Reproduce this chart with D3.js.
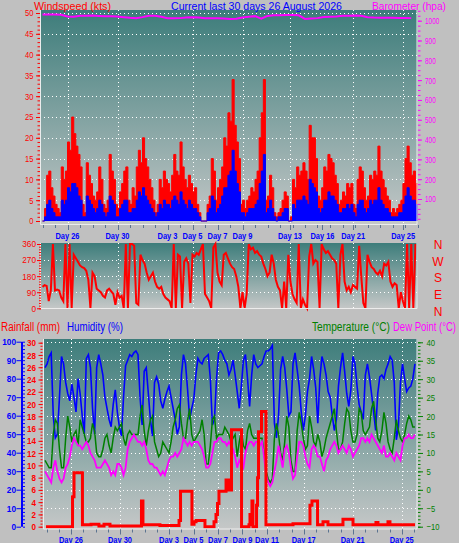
<!DOCTYPE html>
<html>
<head>
<meta charset="utf-8">
<script src="https://cdn.jsdelivr.net/npm/d3@7"></script>
<style>
  body { margin: 0; background: #c0c0c0; overflow: hidden; }
  svg { display: block; }
</style>
</head>
<body>
<script>
// ---- data (6 samples per day unless noted) ----
var gust = [0,3,11,12,8,6,4,3,2,13, 10,12,19,17,25,21,18,16,13,4, 2,14,11,9,6,5,7,13,10,4,
  3,5,16,12,10,4,3,7,9,12, 13,5,4,8,6,13,17,14,20,15, 13,10,8,5,2,4,10,8,12,10,
  9,7,11,16,12,11,19,13,10,8, 11,9,7,8,4,2,0,0,0,4, 6,15,12,5,8,10,13,20,18,26,
  24,34,23,19,15,4,5,3,5,6, 8,7,10,12,20,26,34,5,6,11, 8,2,1,2,3,5,7,6,0,1,
  10,8,13,11,12,14,12,10,23,20, 20,15,6,5,8,13,12,16,15,14, 11,9,4,5,7,6,9,8,9,4,
  3,10,13,12,8,5,6,11,10,12, 11,18,12,10,8,6,5,2,3,2, 3,4,5,9,15,18,14,11,12,9];
var avgWind = [0,1,4,5,3,2,1,1,1,5, 4,5,8,7,9,9,8,6,5,1, 1,6,5,4,3,2,3,5,4,2,
  1,2,6,5,4,1,1,3,4,5, 5,2,2,3,3,5,7,6,8,6, 5,4,3,2,1,2,4,3,5,4,
  4,3,5,6,5,4,7,5,4,3, 5,4,3,3,2,1,0,0,0,2, 3,6,5,2,3,4,6,8,8,11,
  12,17,12,9,7,2,2,1,2,3, 3,3,4,5,9,12,16,2,3,5, 3,1,0,1,1,2,3,3,0,0,
  4,3,5,5,5,6,5,4,10,9, 8,7,3,2,3,5,5,7,6,6, 5,4,2,2,3,3,4,3,4,2,
  1,4,5,5,3,2,3,5,4,5, 5,8,5,4,3,3,2,1,1,1, 1,2,2,4,6,8,6,5,5,4];
// barometer, 2 samples per day
var baro = [1031,1031,1031,1030,1021,1020,1025,1025,1026,1024, 1022,1022,1021,1018,1015,1013,1018,1025,1025,1020,
  1012,1012,1013,1016,1017,1016,1012,1012,1012,1011, 1008,1010,1016,1020,1023,1010,1024,1027,1028,1029,
  1029,1027,1009,1011,1013,1019,1020,1021,1025,1025, 1026,1025,1018,1016,1015,1015,1015,1014,1014,1013];
var windDir = [120,130,125,40,100,360,100,105,100,60, 40,360,0,360,0,300,280,260,240,230,
  225,210,160,0,200,180,110,100,90,70, 60,100,110,95,80,20,90,60,70,0,
  360,0,360,360,350,30,20,300,270,250, 200,160,180,200,150,120,110,120,80,60,
  50,40,0,360,0,300,290,0,260,280, 250,30,300,290,310,300,330,360,80,60,
  40,0,340,360,200,150,130,300,310,280, 250,230,220,180,120,0,90,0,80,360,
  330,340,310,320,300,290,250,220,180,200, 300,250,160,120,100,0,150,0,300,150,
  80,50,30,360,0,50,20,0,290,360, 250,270,260,0,360,330,310,320,300,280,
  270,250,0,300,360,150,100,120,90,130, 120,110,350,180,30,0,300,260,230,220,
  200,190,210,180,250,240,260,150,120,140, 130,0,90,40,0,360,0,360,0,360];
var humidity = [86,88,92,94,60,48,50,70,92,88, 78,72,68,77,70,62,80,72,60,50,
  91,93,86,64,50,86,93,88,82,70, 64,58,54,66,74,62,54,49,70,87,
  90,93,92,94,95,93,70,55,84,86, 72,58,49,78,81,77,68,64,69,73,
  76,70,64,58,50,54,82,93,88,74, 58,64,69,82,91,89,88,91,92,93,
  80,55,58,80,94,95,93,90,88,82, 85,90,82,73,64,76,90,93,80,65,
  82,93,88,86,87,88,92,95,95,96, 98,56,48,60,85,92,86,74,60,62,
  88,94,85,76,62,52,60,73,80,92, 85,75,56,80,92,88,82,73,70,60,
  52,58,76,86,94,84,72,65,74,92, 88,76,66,62,58,82,88,81,72,62,
  52,72,81,82,80,85,88,92,90,78, 47,54,78,88,80,73,75,76,80,88];
var temperature = [8,7,6,6,15,19,18,11,6,6, 14,20,17,13,15,16,12,19,17,15,
  13,13,14,18,16,10,9,9,11,14, 15,12,10,14,17,16,17,18,14,12,
  15,16,15,15,15,15,20,23,16,12, 16,19,20,13,11,9,10,13,12,11,
  10,13,17,19,22,23,18,14,14,19, 22,15,13,14,15,16,19,15,7,7,
  12,19,20,14,15,15,15,17,16,15, 13,14,15,9,13,16,12,11,16,18,
  15,14,14,14,14,14,10,5,3,2, 3,14,18,15,10,8,13,20,17,8,
  5,5,16,21,18,14,11,12,20,17, 13,12,15,13,9,11,14,16,18,20,
  22,16,11,11,13,18,22,21,16,13, 13,15,22,21,16,15,16,17,22,24,
  19,14,13,16,21,18,13,11,10,14, 19,16,14,13,15,18,20,19,17,17];
var dewPoint = [5,4,3,2,6,8,5,3,2,3, 6,7,9,12,14,13,12,12,11,12,
  13,12,10,9,8,6,6,6,7,8, 7,6,4,5,4,7,7,6,4,6,
  11,13,14,15,14,13,13,12,13,11, 8,7,7,6,6,5,4,5,4,6,
  8,9,9,10,9,10,11,14,13,12, 13,12,13,13,13,12,11,9,6,6,
  7,10,13,13,14,14,13,13,12,13, 12,11,9,6,8,7,6,10,12,13,
  13,12,13,13,12,13,9,4,2,1, 2,5,8,12,9,6,11,12,10,6,
  3,4,9,13,13,12,9,7,6,11, 12,11,9,9,7,5,8,9,11,12,
  13,12,10,11,12,11,10,12,11,9, 10,11,12,14,14,13,14,13,15,14,
  13,12,11,10,12,9,9,10,9,8, 10,9,8,12,14,14,15,14,14,15];
// rainfall steps: day offset and mm
var rainDay = [0.08,2.22,2.34,3.02,3.71,4.35,4.76,5.24,7.78,7.90,9.27,10.81,10.93,11.85,12.02,12.18,12.90,
  13.63,13.79,13.91,14.03,14.60,14.84,15.04,15.85,16.45,16.53,16.61,16.69,16.77,17.06,17.14,17.22,17.46,17.82,
  20.00,21.37,21.53,21.98,22.42,22.82,24.03,24.84,26.69,26.85,27.66,27.82,29.84];
var rainMm = [0,4.9,8.8,0.3,0.4,0.1,0.4,0.1,4.2,0.3,0.2,1.0,5.8,0.4,0.8,1.0,0,
  0.8,2.0,3.8,5.8,7.6,6.0,15.8,0,0.3,2.0,0.3,4.2,0,3.5,8.0,15.5,18.8,0.3,
  0.5,3.5,4.2,0.3,0.8,0.3,1.2,0.3,0.7,0.3,0.8,0.3,0.3];

// x-axis labels: text and day offset
var topLabels = ["Day 26","Day 30","Day 3","Day 5","Day 7","Day 9","Day 13","Day 16","Day 21","Day 25"];
var topLabelDay = [2,6,10,12,14,16,19.8,22.4,24.85,28.85];
var topGridDay = [2,6,12,16,19.8,24.85,28.85];
var bottomLabels = ["Day 26","Day 30","Day 3","Day 5","Day 7","Day 9","Day 11","Day 17","Day 21","Day 25"];
var bottomLabelDay = [2,6,10,12,14,16,18,21,25,29];
var compass = ["N","W","S","E","N"];
var compassDeg = [360,270,180,90,0];

// ---- page ----
var svg = d3.select("body").append("svg")
  .attr("width", 459)
  .attr("height", 543)
  .style("font-family", "'Liberation Sans', Arial, sans-serif");

var grad = svg.append("defs").append("linearGradient")
  .attr("id", "plotbg").attr("x1", 0).attr("y1", 0).attr("x2", 0).attr("y2", 1);
grad.append("stop").attr("offset", "0%").attr("stop-color", "#3d7d7b");
grad.append("stop").attr("offset", "100%").attr("stop-color", "#c6c8c8");

var sans = "'Liberation Sans',Arial,sans-serif";

// scales
var xTop = d3.scaleLinear().domain([0, 30]).range([42.5, 417.5]);
var xBot = d3.scaleLinear().domain([0, 30]).range([45, 417]);
var xBotAxis = d3.scaleLinear().domain([0, 30]).range([46.5, 414]);
var yWind = d3.scaleLinear().domain([0, 50]).range([221, 13]);
var yBaro = d3.scaleLinear().domain([100, 1000]).range([199, 20.7]);
var yDir = d3.scaleLinear().domain([0, 360]).range([308.3, 244]);
var yHum = d3.scaleLinear().domain([0, 100]).range([526.7, 341.7]);
var yRain = d3.scaleLinear().domain([0, 30]).range([526.7, 342.7]);
var yTemp = d3.scaleLinear().domain([-10, 40]).range([526.7, 342.3]);

function panel(x0, x1, y0, y1) {
  svg.append("rect").attr("x", x0).attr("y", y0)
    .attr("width", x1 - x0).attr("height", y1 - y0)
    .attr("fill", "url(#plotbg)");
}
function frame(x0, x1, y0, y1) {
  svg.append("path")
    .attr("d", "M" + (x0 + 0.5) + "," + y0 + "V" + (y1 - 0.5) + "H" + (x1 - 0.5) + "V" + y0)
    .attr("fill", "none").attr("stroke", "#ececec");
}
function hgrid(scale, values, x0, x1) {
  svg.append("g").selectAll("line").data(values).join("line")
    .attr("x1", x0).attr("x2", x1)
    .attr("y1", function(d) { return Math.round(scale(d)) + 0.5; })
    .attr("y2", function(d) { return Math.round(scale(d)) + 0.5; })
    .attr("stroke", "#fff").attr("stroke-dasharray", "1,3");
}
function vgrid(scale, values, y0, y1) {
  svg.append("g").selectAll("line").data(values).join("line")
    .attr("x1", function(d) { return Math.round(scale(d)) + 0.5; })
    .attr("x2", function(d) { return Math.round(scale(d)) + 0.5; })
    .attr("y1", y0).attr("y2", y1)
    .attr("stroke", "#fff").attr("stroke-dasharray", "1,3");
}
function axis(fn, scale, pos, major, minor, size, minorSize, pad, color, font, charW) {
  var gm = svg.append("g").attr("transform", "translate(" + pos + ",0)")
    .call(fn(scale).tickValues(minor).tickSize(minorSize).tickFormat(""));
  var g = svg.append("g").attr("transform", "translate(" + pos + ",0)")
    .call(fn(scale).tickValues(major).tickSize(size).tickPadding(pad).tickFormat(d3.format("d")));
  gm.select(".domain").remove();
  g.select(".domain").remove();
  gm.selectAll("line").attr("stroke", color);
  g.selectAll("line").attr("stroke", color);
  g.selectAll("text").attr("fill", color).style("font", font)
    .attr("textLength", function() { return this.textContent.length * charW; })
    .attr("lengthAdjust", "spacingAndGlyphs");
  return g;
}
function series(vals, perDay) {
  var pts = vals.map(function(v, i) { return {t: i / perDay, v: v}; });
  pts.push({t: vals.length / perDay, v: vals[vals.length - 1]});
  return pts;
}
function xTicks(scale, y, labelDays) {
  var g = svg.append("g");
  g.selectAll(".mn").data(d3.range(0, 31)).join("line")
    .attr("x1", function(d) { return Math.round(scale(d)) + 0.5; })
    .attr("x2", function(d) { return Math.round(scale(d)) + 0.5; })
    .attr("y1", y).attr("y2", y + 3).attr("stroke", "#5b7390");
  g.selectAll(".mj").data(labelDays).join("line")
    .attr("x1", function(d) { return Math.round(scale(d)) + 0.5; })
    .attr("x2", function(d) { return Math.round(scale(d)) + 0.5; })
    .attr("y1", y).attr("y2", y + 5).attr("stroke", "#5b7390");
}
function xLabels(scale, names, days, y) {
  svg.append("g").selectAll("text").data(names).join("text")
    .attr("x", function(d, i) { return scale(days[i]); })
    .attr("y", y)
    .attr("text-anchor", "middle")
    .attr("fill", "#0000ff")
    .attr("textLength", function(d) { return d.length * 4; })
    .attr("lengthAdjust", "spacingAndGlyphs")
    .style("font", "bold 9.5px " + sans)
    .text(function(d) { return d; });
}
function header(txt, x, y, len, color, size) {
  svg.append("text").attr("x", x).attr("y", y)
    .attr("textLength", len).attr("lengthAdjust", "spacingAndGlyphs")
    .attr("fill", color).style("font-size", size + "px")
    .text(txt);
}

// ---- top panel: wind speed + barometer ----
panel(40, 417.5, 10, 225);
hgrid(yWind, d3.range(5, 51, 5), 40, 417.5);
vgrid(xTop, topGridDay, 10, 225);

var gustArea = d3.area().x(function(d) { return xTop(d.t); })
  .y0(yWind(0)).y1(function(d) { return yWind(d.v); }).curve(d3.curveStepAfter);
var gustLine = d3.line().x(function(d) { return xTop(d.t); })
  .y(function(d) { return yWind(d.v); }).curve(d3.curveStepAfter);
svg.append("path").attr("d", gustArea(series(gust, 6))).attr("fill", "#ff0000");
svg.append("path").attr("d", gustLine(series(gust, 6))).attr("fill", "none").attr("stroke", "#ff0000");
svg.append("path").attr("d", gustArea(series(avgWind, 6))).attr("fill", "#0000ff");
svg.append("path").attr("d", gustLine(series(avgWind, 6))).attr("fill", "none").attr("stroke", "#0000ff");

var baroLine = d3.line().x(function(d, i) { return xTop(i / 2); }).y(function(d) { return yBaro(d); });
svg.append("path").attr("d", baroLine(baro)).attr("fill", "none")
  .attr("stroke", "#ff00ff").attr("stroke-width", 2);
frame(40, 417.5, 10, 225);

axis(d3.axisLeft, yWind, 40, d3.range(0, 51, 5), d3.range(0, 51, 1), 4, 2.5, 2.5, "#ff0000", "9px " + sans, 4.2);
axis(d3.axisRight, yBaro, 418, d3.range(100, 1001, 100), d3.range(0, 1051, 25), 4, 2.5, 3, "#ff00ff", "9px " + sans, 3.6);
xTicks(xTop, 225, topLabelDay);
xLabels(xTop, topLabels, topLabelDay, 238.5);

header("Windspeed (kts)", 34, 9.5, 77, "#ff0000", 11.5);
header("Current last 30 days 26 August 2026", 171, 9.5, 171, "#0000ff", 11.5);
header("Barometer (hpa)", 372, 9.5, 74, "#ff00ff", 11.5);

// ---- middle panel: wind direction ----
panel(40, 417.5, 243, 309);
hgrid(yDir, [90, 180, 270], 40, 417.5);
vgrid(xTop, topGridDay, 243, 309);
var dirLine = d3.line().x(function(d, i) { return xTop(i / 6); }).y(function(d) { return yDir(d); });
svg.append("path").attr("d", dirLine(windDir)).attr("fill", "none")
  .attr("stroke", "#ff0000").attr("stroke-width", 2);
frame(40, 417.5, 243, 309);
axis(d3.axisLeft, yDir, 41, [0, 90, 180, 270, 360], d3.range(0, 361, 15), 4, 2, 1, "#ff0000", "9px " + sans, 4.6);

svg.append("g").selectAll("text").data(compass).join("text")
  .attr("x", 438).attr("y", function(d, i) { return yDir(compassDeg[i]) + 5 + (360 - compassDeg[i]) / 360 * 2.5; })
  .attr("text-anchor", "middle").attr("fill", "#ff0000")
  .style("font-size", "12px")
  .text(function(d) { return d; });

// ---- bottom panel: rain, humidity, temperature, dew point ----
header("Rainfall (mm)", 1, 331, 59, "#ff0000", 12);
header("Humidity (%)", 67, 331, 56, "#0000ff", 12);
header("Temperature (°C)", 312, 331, 78, "#008000", 12);
header("Dew Point (°C)", 393, 331, 63, "#ff00ff", 12);

panel(43, 417.5, 339, 529.5);
hgrid(yHum, d3.range(10, 101, 10), 43, 417.5);
vgrid(xBotAxis, bottomLabelDay, 339, 529.5);

var humLine = d3.line().x(function(d, i) { return xBot(i / 6); }).y(function(d) { return yHum(d); });
var tLine = d3.line().x(function(d, i) { return xBot(i / 6); }).y(function(d) { return yTemp(d); });
svg.append("path").attr("d", humLine(humidity)).attr("fill", "none")
  .attr("stroke", "#0000ff").attr("stroke-width", 1.6);
svg.append("path").attr("d", tLine(temperature)).attr("fill", "none")
  .attr("stroke", "#008000").attr("stroke-width", 1.5);
svg.append("path").attr("d", tLine(dewPoint)).attr("fill", "none")
  .attr("stroke", "#ff00ff").attr("stroke-width", 1.8);

var rainLine = d3.line().x(function(d, i) { return xBot(rainDay[i]); })
  .y(function(d) { return yRain(d); }).curve(d3.curveStepAfter);
svg.append("path").attr("d", rainLine(rainMm)).attr("fill", "none")
  .attr("stroke", "#ff0000").attr("stroke-width", 3);
frame(43, 417.5, 339, 529.5);

// humidity axis with its own spine
svg.append("line").attr("x1", 22).attr("x2", 22)
  .attr("y1", yHum(100)).attr("y2", yHum(0))
  .attr("stroke", "#0000ff").attr("stroke-width", 2);
axis(d3.axisLeft, yHum, 21, d3.range(0, 101, 10), [], 4.5, 0, 0.5, "#0000ff", "bold 9.5px " + sans, 4.6);
axis(d3.axisRight, yHum, 23, [], d3.range(0, 101, 2), 0, 2, 0, "#0000ff", "9px " + sans, 4);
axis(d3.axisLeft, yRain, 42.5, d3.range(0, 31, 2), d3.range(0, 30.1, 0.5), 4, 2, 2.5, "#ff0000", "bold 9.5px " + sans, 4.5);
axis(d3.axisRight, yTemp, 418, d3.range(-10, 41, 5), d3.range(-10, 41, 1), 5, 2.5, 3.5, "#008000", "9.5px " + sans, 4.3);

xTicks(xBotAxis, 529.5, bottomLabelDay);
xLabels(xBotAxis, bottomLabels, bottomLabelDay, 542.5);
</script>
</body>
</html>
